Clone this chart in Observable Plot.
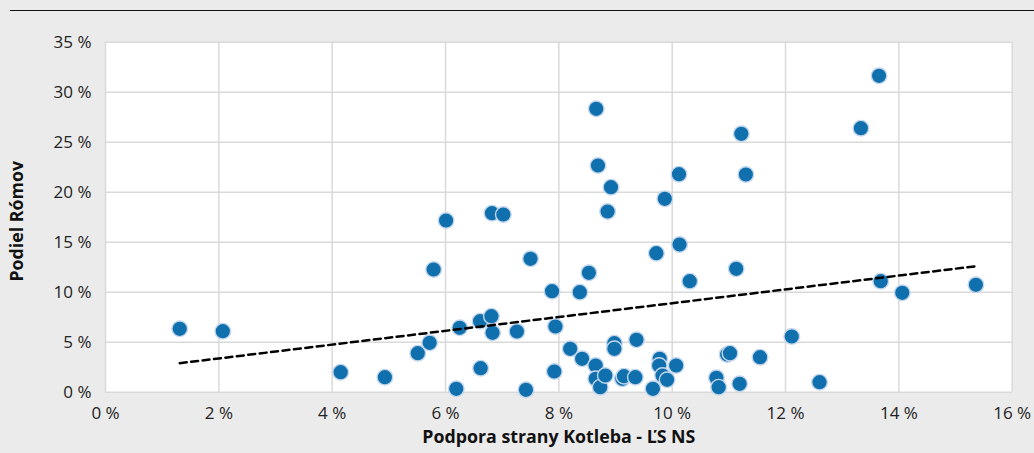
<!DOCTYPE html>
<html>
<head>
<meta charset="utf-8">
<script src="https://cdn.jsdelivr.net/npm/d3@7"></script>
<script src="https://cdn.jsdelivr.net/npm/@observablehq/plot@0.6"></script>
<style>
  html, body { margin: 0; padding: 0; background: #ebebeb; }
  #wrap { position: relative; width: 1034px; height: 453px; overflow: hidden; }
  #topline { position: absolute; left: 10px; top: 10px; width: 1024px; height: 0; border-top: 1.5px solid #111; }
  svg { display: block; }
</style>
</head>
<body>
<div id="wrap"><div id="topline"></div></div>
<script>
// Support of Kotleba - ĽS NS (%)
const kotleba = [1.31, 2.07, 4.15, 4.93, 5.51, 5.72, 5.79, 6.01, 6.19, 6.25, 6.62, 6.61, 6.81, 6.83, 6.82, 7.02, 7.26, 7.42, 7.50, 7.88, 7.92, 7.94, 8.20, 8.37, 8.41, 8.53, 8.66, 8.69, 8.65, 8.65, 8.73, 8.82, 8.86, 8.92, 8.98, 8.98, 9.12, 9.15, 9.35, 9.37, 9.66, 9.72, 9.78, 9.77, 9.83, 9.91, 9.87, 10.07, 10.12, 10.13, 10.31, 10.78, 10.82, 10.97, 11.02, 11.13, 11.19, 11.22, 11.30, 11.55, 12.11, 12.60, 13.33, 13.65, 13.68, 14.06, 15.36];
// Share of Roma (%)
const roma = [6.34, 6.10, 2.00, 1.50, 3.90, 4.94, 12.27, 17.17, 0.34, 6.44, 2.40, 7.10, 7.60, 5.94, 17.90, 17.77, 6.07, 0.24, 13.34, 10.10, 2.07, 6.57, 4.34, 10.00, 3.34, 11.94, 28.34, 22.67, 2.67, 1.34, 0.50, 1.67, 18.07, 20.50, 4.90, 4.34, 1.34, 1.60, 1.50, 5.24, 0.34, 13.90, 3.34, 2.67, 1.67, 1.24, 19.34, 2.67, 21.80, 14.77, 11.10, 1.44, 0.50, 3.77, 3.90, 12.34, 0.84, 25.84, 21.77, 3.50, 5.57, 1.00, 26.40, 31.64, 11.10, 9.94, 10.74];
// Linear trend line endpoints
const trendX = [1.31, 15.36];
const trendY = [2.9, 12.6];
const xTicks = [0, 2, 4, 6, 8, 10, 12, 14, 16];
const yTicks = [0, 5, 10, 15, 20, 25, 30, 35];
const xLabel = "Podpora strany Kotleba - ĽS NS";
const yLabel = "Podiel Rómov";

const points = kotleba.map((x, i) => ({x, y: roma[i]}));
const trend = trendX.map((x, i) => ({x, y: trendY[i]}));
const pct = d => d + " %";

const chart = Plot.plot({
  width: 1034,
  height: 453,
  marginLeft: 105,
  marginRight: 22.3,
  marginTop: 41.7,
  marginBottom: 61.3,
  style: {background: "transparent", fontFamily: "'Open Sans', sans-serif", fontSize: "17px", color: "#222", overflow: "visible"},
  x: {domain: [0, 16]},
  y: {domain: [0, 35]},
  marks: [
    Plot.frame({fill: "white", stroke: null}),
    Plot.gridX(xTicks, {stroke: "#d9d9d9", strokeOpacity: 1, strokeWidth: 1.5}),
    Plot.gridY(yTicks, {stroke: "#d9d9d9", strokeOpacity: 1, strokeWidth: 1.5}),
    Plot.axisX(xTicks, {tickSize: 0, tickPadding: 14.5, tickFormat: pct, label: null, fill: "#222", fontSize: 17}),
    Plot.axisY(yTicks, {tickSize: 0, tickPadding: 14, tickFormat: pct, label: null, fill: "#222", fontSize: 17}),
    Plot.dot(points, {x: "x", y: "y", r: 7.8, fill: "#1070ad", stroke: "#c3d6ec", strokeWidth: 1.4}),
    Plot.line(trend, {x: "x", y: "y", stroke: "#000", strokeWidth: 2.5, strokeDasharray: "7,4.5"}),
    Plot.text([xLabel], {frameAnchor: "bottom", dy: 51, fontWeight: "bold", fontSize: 17.8, fill: "#111"}),
    Plot.text([yLabel], {frameAnchor: "left", textAnchor: "middle", dx: -88, dy: 4, rotate: -90, fontWeight: "bold", fontSize: 17.8, fill: "#111"})
  ]
});
document.getElementById("wrap").appendChild(chart);
</script>
</body>
</html>
